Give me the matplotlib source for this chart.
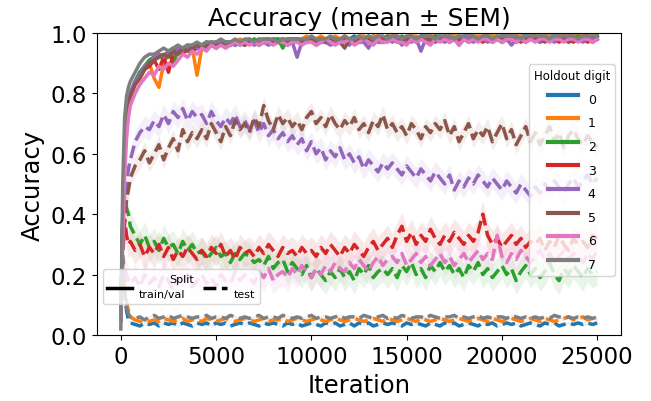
import numpy as np
import matplotlib
matplotlib.use("Agg")
import matplotlib.pyplot as plt
from matplotlib.lines import Line2D
from matplotlib.legend_handler import HandlerLine2D

# iterations at which accuracy was logged (dense at the start)
iterations = np.concatenate([[0, 100, 200, 300, 400, 500], np.arange(750, 25001, 250)])

digits = ["0", "1", "2", "3", "4", "5", "6", "7"]
colors = ["C0", "C1", "C2", "C3", "C4", "C5", "C6", "C7"]

# train/val accuracy (mean over runs) per holdout digit
train_0 = [0.05, 0.40, 0.62, 0.72, 0.77, 0.80, 0.84, 0.87, 0.89, 0.91,
           0.92, 0.93, 0.92, 0.94, 0.95, 0.94, 0.95, 0.96, 0.95, 0.96,
           0.96, 0.97, 0.96, 0.97, 0.96, 0.97, 0.97, 0.96, 0.97, 0.97,
           0.98, 0.97, 0.97, 0.98, 0.97, 0.98, 0.98, 0.97, 0.98, 0.98,
           0.98, 0.97, 0.98, 0.98, 0.98, 0.97, 0.98, 0.98, 0.98, 0.98,
           0.98, 0.98, 0.99, 0.98, 0.98, 0.98, 0.99, 0.98, 0.98, 0.99,
           0.98, 0.99, 0.98, 0.98, 0.99, 0.98, 0.99, 0.99, 0.98, 0.99,
           0.99, 0.98, 0.99, 0.99, 0.98, 0.99, 0.99, 0.99, 0.98, 0.99,
           0.99, 0.99, 0.98, 0.99, 0.99, 0.99, 0.98, 0.99, 0.99, 0.99,
           0.99, 0.98, 0.99, 0.99, 0.99, 0.99, 0.98, 0.99, 0.99, 0.99,
           0.99, 0.99, 0.98, 0.99]
train_1 = [0.05, 0.36, 0.58, 0.70, 0.76, 0.79, 0.83, 0.86, 0.88, 0.90,
           0.85, 0.82, 0.90, 0.93, 0.94, 0.93, 0.95, 0.94, 0.95, 0.86,
           0.95, 0.96, 0.97, 0.96, 0.97, 0.96, 0.97, 0.97, 0.98, 0.97,
           0.97, 0.98, 0.97, 0.98, 0.98, 0.97, 0.98, 0.98, 0.97, 0.98,
           0.98, 0.98, 0.99, 0.98, 0.98, 0.99, 0.98, 0.98, 0.99, 0.98,
           0.99, 0.98, 0.98, 0.99, 0.99, 0.98, 0.99, 0.99, 0.98, 0.99,
           0.99, 0.99, 0.98, 0.99, 0.99, 0.99, 0.98, 0.99, 0.99, 0.99,
           0.98, 0.99, 0.99, 0.99, 0.99, 0.98, 0.99, 0.99, 0.99, 0.99,
           0.99, 0.99, 0.99, 0.98, 0.99, 0.99, 0.99, 0.99, 0.98, 0.99,
           0.99, 0.99, 0.99, 0.99, 0.98, 0.99, 0.99, 0.99, 0.99, 0.99,
           0.99, 0.99, 0.99, 0.99]
train_2 = [0.05, 0.38, 0.60, 0.71, 0.77, 0.80, 0.84, 0.87, 0.89, 0.91,
           0.92, 0.93, 0.91, 0.94, 0.90, 0.94, 0.95, 0.94, 0.96, 0.95,
           0.96, 0.97, 0.96, 0.95, 0.97, 0.96, 0.97, 0.97, 0.96, 0.97,
           0.97, 0.98, 0.97, 0.97, 0.98, 0.97, 0.98, 0.95, 0.98, 0.98,
           0.98, 0.97, 0.98, 0.98, 0.98, 0.98, 0.97, 0.98, 0.98, 0.98,
           0.98, 0.98, 0.98, 0.97, 0.98, 0.99, 0.98, 0.98, 0.98, 0.99,
           0.98, 0.98, 0.99, 0.98, 0.98, 0.98, 0.99, 0.98, 0.98, 0.99,
           0.98, 0.99, 0.98, 0.98, 0.99, 0.98, 0.98, 0.99, 0.98, 0.98,
           0.99, 0.98, 0.98, 0.99, 0.98, 0.98, 0.99, 0.98, 0.99, 0.98,
           0.98, 0.99, 0.98, 0.98, 0.99, 0.98, 0.99, 0.98, 0.98, 0.99,
           0.98, 0.99, 0.98, 0.99]
train_3 = [0.05, 0.37, 0.59, 0.70, 0.76, 0.79, 0.83, 0.85, 0.88, 0.89,
           0.91, 0.88, 0.92, 0.87, 0.93, 0.94, 0.93, 0.95, 0.94, 0.95,
           0.96, 0.95, 0.96, 0.97, 0.96, 0.97, 0.96, 0.97, 0.97, 0.96,
           0.97, 0.97, 0.98, 0.97, 0.97, 0.98, 0.97, 0.98, 0.97, 0.98,
           0.98, 0.97, 0.98, 0.98, 0.97, 0.98, 0.98, 0.98, 0.97, 0.98,
           0.98, 0.98, 0.97, 0.98, 0.98, 0.98, 0.98, 0.97, 0.98, 0.98,
           0.98, 0.98, 0.98, 0.97, 0.98, 0.98, 0.98, 0.98, 0.97, 0.98,
           0.98, 0.98, 0.98, 0.98, 0.97, 0.98, 0.98, 0.98, 0.98, 0.97,
           0.98, 0.98, 0.98, 0.97, 0.98, 0.98, 0.98, 0.97, 0.98, 0.98,
           0.98, 0.97, 0.98, 0.98, 0.98, 0.97, 0.98, 0.98, 0.97, 0.98,
           0.98, 0.97, 0.98, 0.98]
train_4 = [0.05, 0.38, 0.60, 0.71, 0.77, 0.80, 0.84, 0.86, 0.89, 0.90,
           0.92, 0.93, 0.92, 0.94, 0.93, 0.95, 0.94, 0.95, 0.96, 0.95,
           0.96, 0.95, 0.97, 0.96, 0.97, 0.96, 0.97, 0.96, 0.97, 0.97,
           0.97, 0.96, 0.97, 0.97, 0.96, 0.97, 0.97, 0.97, 0.96, 0.97,
           0.92, 0.97, 0.97, 0.98, 0.96, 0.97, 0.97, 0.96, 0.97, 0.98,
           0.97, 0.96, 0.98, 0.97, 0.97, 0.95, 0.98, 0.97, 0.97, 0.98,
           0.97, 0.98, 0.96, 0.98, 0.97, 0.98, 0.94, 0.98, 0.97, 0.98,
           0.98, 0.97, 0.98, 0.98, 0.96, 0.98, 0.98, 0.97, 0.98, 0.98,
           0.97, 0.98, 0.98, 0.97, 0.98, 0.96, 0.98, 0.98, 0.97, 0.98,
           0.98, 0.97, 0.98, 0.98, 0.97, 0.98, 0.98, 0.97, 0.98, 0.98,
           0.97, 0.98, 0.98, 0.98]
train_5 = [0.05, 0.37, 0.59, 0.70, 0.76, 0.79, 0.83, 0.85, 0.88, 0.90,
           0.91, 0.92, 0.93, 0.92, 0.94, 0.93, 0.95, 0.94, 0.95, 0.96,
           0.95, 0.96, 0.97, 0.96, 0.96, 0.97, 0.96, 0.97, 0.97, 0.96,
           0.97, 0.97, 0.96, 0.97, 0.98, 0.97, 0.97, 0.98, 0.97, 0.97,
           0.98, 0.97, 0.97, 0.98, 0.97, 0.98, 0.97, 0.98, 0.98, 0.97,
           0.95, 0.98, 0.97, 0.98, 0.98, 0.97, 0.98, 0.98, 0.97, 0.98,
           0.98, 0.97, 0.98, 0.98, 0.98, 0.97, 0.98, 0.98, 0.98, 0.97,
           0.98, 0.98, 0.97, 0.98, 0.98, 0.98, 0.97, 0.98, 0.98, 0.98,
           0.98, 0.97, 0.98, 0.98, 0.98, 0.98, 0.97, 0.98, 0.98, 0.98,
           0.98, 0.98, 0.97, 0.98, 0.98, 0.98, 0.98, 0.97, 0.98, 0.98,
           0.98, 0.98, 0.97, 0.98]
train_6 = [0.05, 0.30, 0.52, 0.65, 0.72, 0.76, 0.80, 0.83, 0.85, 0.87,
           0.86, 0.89, 0.88, 0.90, 0.89, 0.91, 0.93, 0.92, 0.94, 0.93,
           0.95, 0.94, 0.96, 0.95, 0.96, 0.95, 0.96, 0.97, 0.96, 0.97,
           0.96, 0.97, 0.96, 0.97, 0.97, 0.96, 0.97, 0.97, 0.96, 0.97,
           0.97, 0.96, 0.97, 0.97, 0.96, 0.97, 0.98, 0.97, 0.96, 0.97,
           0.97, 0.98, 0.96, 0.97, 0.98, 0.97, 0.96, 0.98, 0.97, 0.97,
           0.98, 0.97, 0.97, 0.96, 0.98, 0.97, 0.98, 0.97, 0.96, 0.98,
           0.97, 0.98, 0.97, 0.98, 0.96, 0.98, 0.97, 0.98, 0.97, 0.98,
           0.98, 0.97, 0.98, 0.97, 0.98, 0.98, 0.97, 0.98, 0.97, 0.98,
           0.97, 0.98, 0.98, 0.97, 0.98, 0.98, 0.97, 0.98, 0.98, 0.97,
           0.98, 0.98, 0.97, 0.98]
train_7 = [0.02, 0.50, 0.72, 0.79, 0.82, 0.84, 0.87, 0.90, 0.92, 0.93,
           0.93, 0.94, 0.95, 0.94, 0.95, 0.96, 0.95, 0.96, 0.96, 0.97,
           0.96, 0.97, 0.97, 0.97, 0.98, 0.97, 0.97, 0.98, 0.97, 0.98,
           0.98, 0.97, 0.98, 0.98, 0.98, 0.98, 0.97, 0.98, 0.98, 0.98,
           0.98, 0.98, 0.98, 0.99, 0.98, 0.98, 0.98, 0.99, 0.98, 0.98,
           0.99, 0.98, 0.98, 0.99, 0.98, 0.99, 0.98, 0.99, 0.99, 0.98,
           0.99, 0.99, 0.98, 0.99, 0.99, 0.98, 0.99, 0.99, 0.99, 0.98,
           0.99, 0.99, 0.99, 0.98, 0.99, 0.99, 0.99, 0.99, 0.98, 0.99,
           0.99, 0.98, 0.99, 0.99, 0.99, 0.99, 0.99, 0.98, 0.99, 0.99,
           0.99, 0.99, 0.99, 0.98, 0.99, 0.99, 0.99, 0.99, 0.99, 0.98,
           0.99, 0.99, 0.99, 0.99]

# test accuracy (mean over runs) per holdout digit
test_0 = [0.10, 0.22, 0.14, 0.08, 0.05, 0.04, 0.035, 0.03, 0.04, 0.035,
          0.04, 0.03, 0.04, 0.035, 0.04, 0.03, 0.04, 0.035, 0.03, 0.04,
          0.035, 0.04, 0.03, 0.04, 0.035, 0.04, 0.03, 0.035, 0.04, 0.035,
          0.04, 0.035, 0.03, 0.04, 0.035, 0.04, 0.035, 0.03, 0.04, 0.035,
          0.04, 0.03, 0.035, 0.04, 0.035, 0.03, 0.04, 0.035, 0.04, 0.03,
          0.035, 0.04, 0.03, 0.04, 0.035, 0.04, 0.03, 0.035, 0.04, 0.035,
          0.04, 0.035, 0.03, 0.04, 0.035, 0.04, 0.035, 0.03, 0.04, 0.035,
          0.03, 0.04, 0.035, 0.04, 0.03, 0.035, 0.04, 0.035, 0.03, 0.04,
          0.035, 0.04, 0.03, 0.035, 0.04, 0.035, 0.04, 0.03, 0.035, 0.04,
          0.035, 0.03, 0.04, 0.035, 0.04, 0.03, 0.035, 0.04, 0.035, 0.04,
          0.035, 0.04, 0.035, 0.04]
test_1 = [0.10, 0.20, 0.16, 0.11, 0.08, 0.06, 0.05, 0.045, 0.05, 0.045,
          0.05, 0.045, 0.055, 0.05, 0.045, 0.05, 0.055, 0.045, 0.05, 0.05,
          0.045, 0.055, 0.05, 0.045, 0.05, 0.055, 0.05, 0.045, 0.05, 0.055,
          0.05, 0.045, 0.05, 0.055, 0.045, 0.05, 0.05, 0.055, 0.045, 0.05,
          0.055, 0.05, 0.045, 0.05, 0.055, 0.05, 0.045, 0.05, 0.055, 0.05,
          0.045, 0.05, 0.055, 0.05, 0.045, 0.05, 0.055, 0.05, 0.045, 0.055,
          0.05, 0.045, 0.05, 0.055, 0.05, 0.045, 0.055, 0.05, 0.045, 0.05,
          0.055, 0.05, 0.045, 0.05, 0.055, 0.05, 0.045, 0.05, 0.055, 0.05,
          0.045, 0.055, 0.05, 0.045, 0.05, 0.055, 0.05, 0.045, 0.05, 0.055,
          0.05, 0.045, 0.055, 0.05, 0.045, 0.05, 0.055, 0.06, 0.05, 0.055,
          0.06, 0.05, 0.055, 0.05]
test_2 = [0.10, 0.35, 0.45, 0.42, 0.40, 0.36, 0.33, 0.30, 0.33, 0.29,
          0.31, 0.28, 0.32, 0.29, 0.30, 0.27, 0.31, 0.28, 0.30, 0.27,
          0.28, 0.25, 0.27, 0.29, 0.26, 0.27, 0.24, 0.27, 0.25, 0.27,
          0.26, 0.24, 0.25, 0.23, 0.26, 0.22, 0.24, 0.25, 0.21, 0.24,
          0.22, 0.20, 0.23, 0.19, 0.22, 0.20, 0.18, 0.21, 0.19, 0.22,
          0.19, 0.21, 0.18, 0.22, 0.20, 0.23, 0.19, 0.21, 0.22, 0.20,
          0.22, 0.19, 0.23, 0.21, 0.24, 0.20, 0.22, 0.19, 0.23, 0.21,
          0.24, 0.21, 0.23, 0.20, 0.22, 0.19, 0.23, 0.21, 0.24, 0.20,
          0.22, 0.19, 0.21, 0.23, 0.20, 0.22, 0.18, 0.21, 0.23, 0.20,
          0.22, 0.19, 0.21, 0.24, 0.20, 0.18, 0.22, 0.20, 0.23, 0.21,
          0.19, 0.22, 0.20, 0.21]
test_3 = [0.10, 0.30, 0.38, 0.33, 0.30, 0.31, 0.28, 0.30, 0.26, 0.29,
          0.27, 0.30, 0.26, 0.29, 0.25, 0.28, 0.26, 0.29, 0.27, 0.25,
          0.28, 0.26, 0.29, 0.27, 0.30, 0.26, 0.28, 0.25, 0.29, 0.27,
          0.28, 0.26, 0.29, 0.27, 0.30, 0.28, 0.26, 0.29, 0.27, 0.28,
          0.26, 0.29, 0.27, 0.28, 0.26, 0.29, 0.27, 0.30, 0.28, 0.26,
          0.29, 0.27, 0.30, 0.28, 0.26, 0.29, 0.31, 0.28, 0.30, 0.32,
          0.29, 0.33, 0.36, 0.31, 0.34, 0.30, 0.33, 0.31, 0.35, 0.32,
          0.30, 0.33, 0.31, 0.34, 0.32, 0.30, 0.33, 0.31, 0.34, 0.40,
          0.33, 0.30, 0.32, 0.29, 0.31, 0.33, 0.30, 0.32, 0.29, 0.31,
          0.30, 0.32, 0.28, 0.31, 0.29, 0.33, 0.30, 0.28, 0.32, 0.30,
          0.31, 0.29, 0.33, 0.32]
test_4 = [0.10, 0.30, 0.42, 0.50, 0.55, 0.58, 0.64, 0.67, 0.69, 0.68,
          0.71, 0.69, 0.73, 0.70, 0.74, 0.72, 0.75, 0.71, 0.74, 0.72,
          0.73, 0.70, 0.74, 0.71, 0.69, 0.72, 0.70, 0.73, 0.69, 0.71,
          0.68, 0.71, 0.67, 0.70, 0.66, 0.68, 0.65, 0.67, 0.64, 0.66,
          0.63, 0.65, 0.61, 0.64, 0.60, 0.62, 0.58, 0.61, 0.59, 0.62,
          0.58, 0.60, 0.57, 0.59, 0.55, 0.58, 0.56, 0.54, 0.57, 0.55,
          0.57, 0.55, 0.53, 0.56, 0.54, 0.52, 0.55, 0.53, 0.51, 0.54,
          0.52, 0.50, 0.53, 0.48, 0.51, 0.49, 0.52, 0.50, 0.53, 0.51,
          0.49, 0.52, 0.50, 0.48, 0.51, 0.49, 0.47, 0.50, 0.48, 0.46,
          0.49, 0.47, 0.50, 0.48, 0.51, 0.49, 0.47, 0.50, 0.52, 0.49,
          0.51, 0.53, 0.50, 0.52]
test_5 = [0.10, 0.25, 0.38, 0.45, 0.48, 0.52, 0.56, 0.58, 0.61, 0.57,
          0.60, 0.63, 0.58, 0.62, 0.65, 0.61, 0.68, 0.64, 0.67, 0.65,
          0.68, 0.65, 0.70, 0.67, 0.64, 0.69, 0.66, 0.71, 0.68, 0.70,
          0.67, 0.72, 0.69, 0.76, 0.71, 0.68, 0.73, 0.70, 0.72, 0.69,
          0.71, 0.68, 0.72, 0.74, 0.70, 0.72, 0.69, 0.73, 0.70, 0.68,
          0.71, 0.69, 0.72, 0.68, 0.70, 0.67, 0.71, 0.69, 0.73, 0.68,
          0.70, 0.67, 0.69, 0.66, 0.70, 0.68, 0.65, 0.69, 0.67, 0.70,
          0.68, 0.71, 0.66, 0.69, 0.64, 0.67, 0.70, 0.65, 0.68, 0.66,
          0.69, 0.64, 0.67, 0.70, 0.65, 0.68, 0.63, 0.66, 0.69, 0.64,
          0.67, 0.63, 0.66, 0.69, 0.64, 0.67, 0.62, 0.66, 0.68, 0.65,
          0.63, 0.66, 0.64, 0.62]
test_6 = [0.10, 0.25, 0.22, 0.20, 0.18, 0.17, 0.19, 0.16, 0.20, 0.17,
          0.19, 0.16, 0.20, 0.18, 0.15, 0.19, 0.17, 0.20, 0.16, 0.18,
          0.20, 0.17, 0.19, 0.16, 0.20, 0.18, 0.17, 0.21, 0.18, 0.20,
          0.19, 0.17, 0.21, 0.19, 0.22, 0.18, 0.20, 0.21, 0.19, 0.22,
          0.20, 0.23, 0.21, 0.19, 0.22, 0.20, 0.23, 0.21, 0.24, 0.22,
          0.21, 0.24, 0.22, 0.25, 0.23, 0.21, 0.24, 0.26, 0.23, 0.25,
          0.26, 0.24, 0.27, 0.23, 0.25, 0.27, 0.24, 0.26, 0.23, 0.25,
          0.27, 0.24, 0.26, 0.23, 0.25, 0.27, 0.24, 0.26, 0.28, 0.25,
          0.27, 0.25, 0.33, 0.26, 0.24, 0.27, 0.25, 0.28, 0.26, 0.24,
          0.26, 0.28, 0.25, 0.27, 0.24, 0.26, 0.28, 0.25, 0.27, 0.26,
          0.24, 0.27, 0.25, 0.28]
test_7 = [0.10, 0.25, 0.15, 0.09, 0.07, 0.06, 0.055, 0.06, 0.05, 0.06,
          0.065, 0.055, 0.06, 0.065, 0.055, 0.06, 0.065, 0.06, 0.055, 0.06,
          0.06, 0.065, 0.055, 0.06, 0.06, 0.055, 0.065, 0.06, 0.055, 0.06,
          0.055, 0.06, 0.065, 0.055, 0.06, 0.06, 0.055, 0.065, 0.06, 0.055,
          0.06, 0.055, 0.06, 0.065, 0.055, 0.06, 0.06, 0.055, 0.06, 0.065,
          0.055, 0.06, 0.06, 0.055, 0.065, 0.06, 0.055, 0.06, 0.065, 0.055,
          0.06, 0.055, 0.065, 0.06, 0.055, 0.06, 0.06, 0.055, 0.065, 0.06,
          0.055, 0.06, 0.06, 0.065, 0.055, 0.06, 0.055, 0.06, 0.065, 0.055,
          0.06, 0.055, 0.06, 0.06, 0.055, 0.065, 0.06, 0.055, 0.06, 0.055,
          0.06, 0.055, 0.06, 0.055, 0.065, 0.06, 0.055, 0.06, 0.055, 0.06,
          0.055, 0.06, 0.055, 0.06]

train_curves = [train_0, train_1, train_2, train_3, train_4, train_5, train_6, train_7]
test_curves = [test_0, test_1, test_2, test_3, test_4, test_5, test_6, test_7]

# rough standard error of the mean for each curve
sem_train = [0.006, 0.006, 0.006, 0.006, 0.008, 0.007, 0.008, 0.005]
sem_test = [0.006, 0.006, 0.045, 0.045, 0.035, 0.03, 0.045, 0.006]


class RaisedLine(HandlerLine2D):
    """legend line drawn a bit above the centre of the label"""
    def __init__(self, lift, **kw):
        super().__init__(**kw)
        self.lift = lift

    def create_artists(self, legend, orig_handle, xdescent, ydescent, width, height, fontsize, trans):
        return super().create_artists(legend, orig_handle, xdescent, ydescent, width,
                                      height + 2 * self.lift * fontsize, fontsize, trans)


fig, ax = plt.subplots(figsize=(6.51, 4.02), dpi=100)
fig.subplots_adjust(left=97/651, right=621/651, top=1-34/402, bottom=1-336/402)

for i in range(len(digits)):
    tr = np.array(train_curves[i])
    te = np.array(test_curves[i])
    ax.fill_between(iterations, tr - sem_train[i], tr + sem_train[i], color=colors[i], alpha=0.12, lw=0)
    ax.plot(iterations, tr, color=colors[i], lw=2.5)
    ax.fill_between(iterations, te - sem_test[i], te + sem_test[i], color=colors[i], alpha=0.1, lw=0)
    ax.plot(iterations, te, color=colors[i], lw=2.5, ls='--')

ax.set_ylim(0, 1)
ax.set_title("Accuracy (mean ± SEM)", fontsize=18)
ax.set_xlabel("Iteration", fontsize=17.5)
ax.set_ylabel("Accuracy", fontsize=17.5)
ax.tick_params(labelsize=16.5)

# legend for the holdout digit (colours)
digit_handles = [Line2D([], [], color=c, lw=3) for c in colors]
leg1 = ax.legend(digit_handles, digits, title="Holdout digit", loc='upper right',
                 bbox_to_anchor=(0.9885, 0.897), borderaxespad=0, fontsize=9,
                 title_fontsize=8.5, labelspacing=0.85, handlelength=2.4,
                 handler_map={Line2D: RaisedLine(0.3)})
ax.add_artist(leg1)

# legend for the split (line style)
split_handles = [Line2D([], [], color='k', lw=2.5), Line2D([], [], color='k', lw=2.5, ls='--')]
ax.legend(split_handles, ["train/val", "test"], title="Split", ncol=2, loc='lower left',
          bbox_to_anchor=(0.0115, 0.103), borderaxespad=0, fontsize=8, title_fontsize=8,
          handlelength=2.2, columnspacing=1.6, handletextpad=0.6,
          handler_map={Line2D: RaisedLine(0.5)})

plt.savefig("out.png", dpi=100)
